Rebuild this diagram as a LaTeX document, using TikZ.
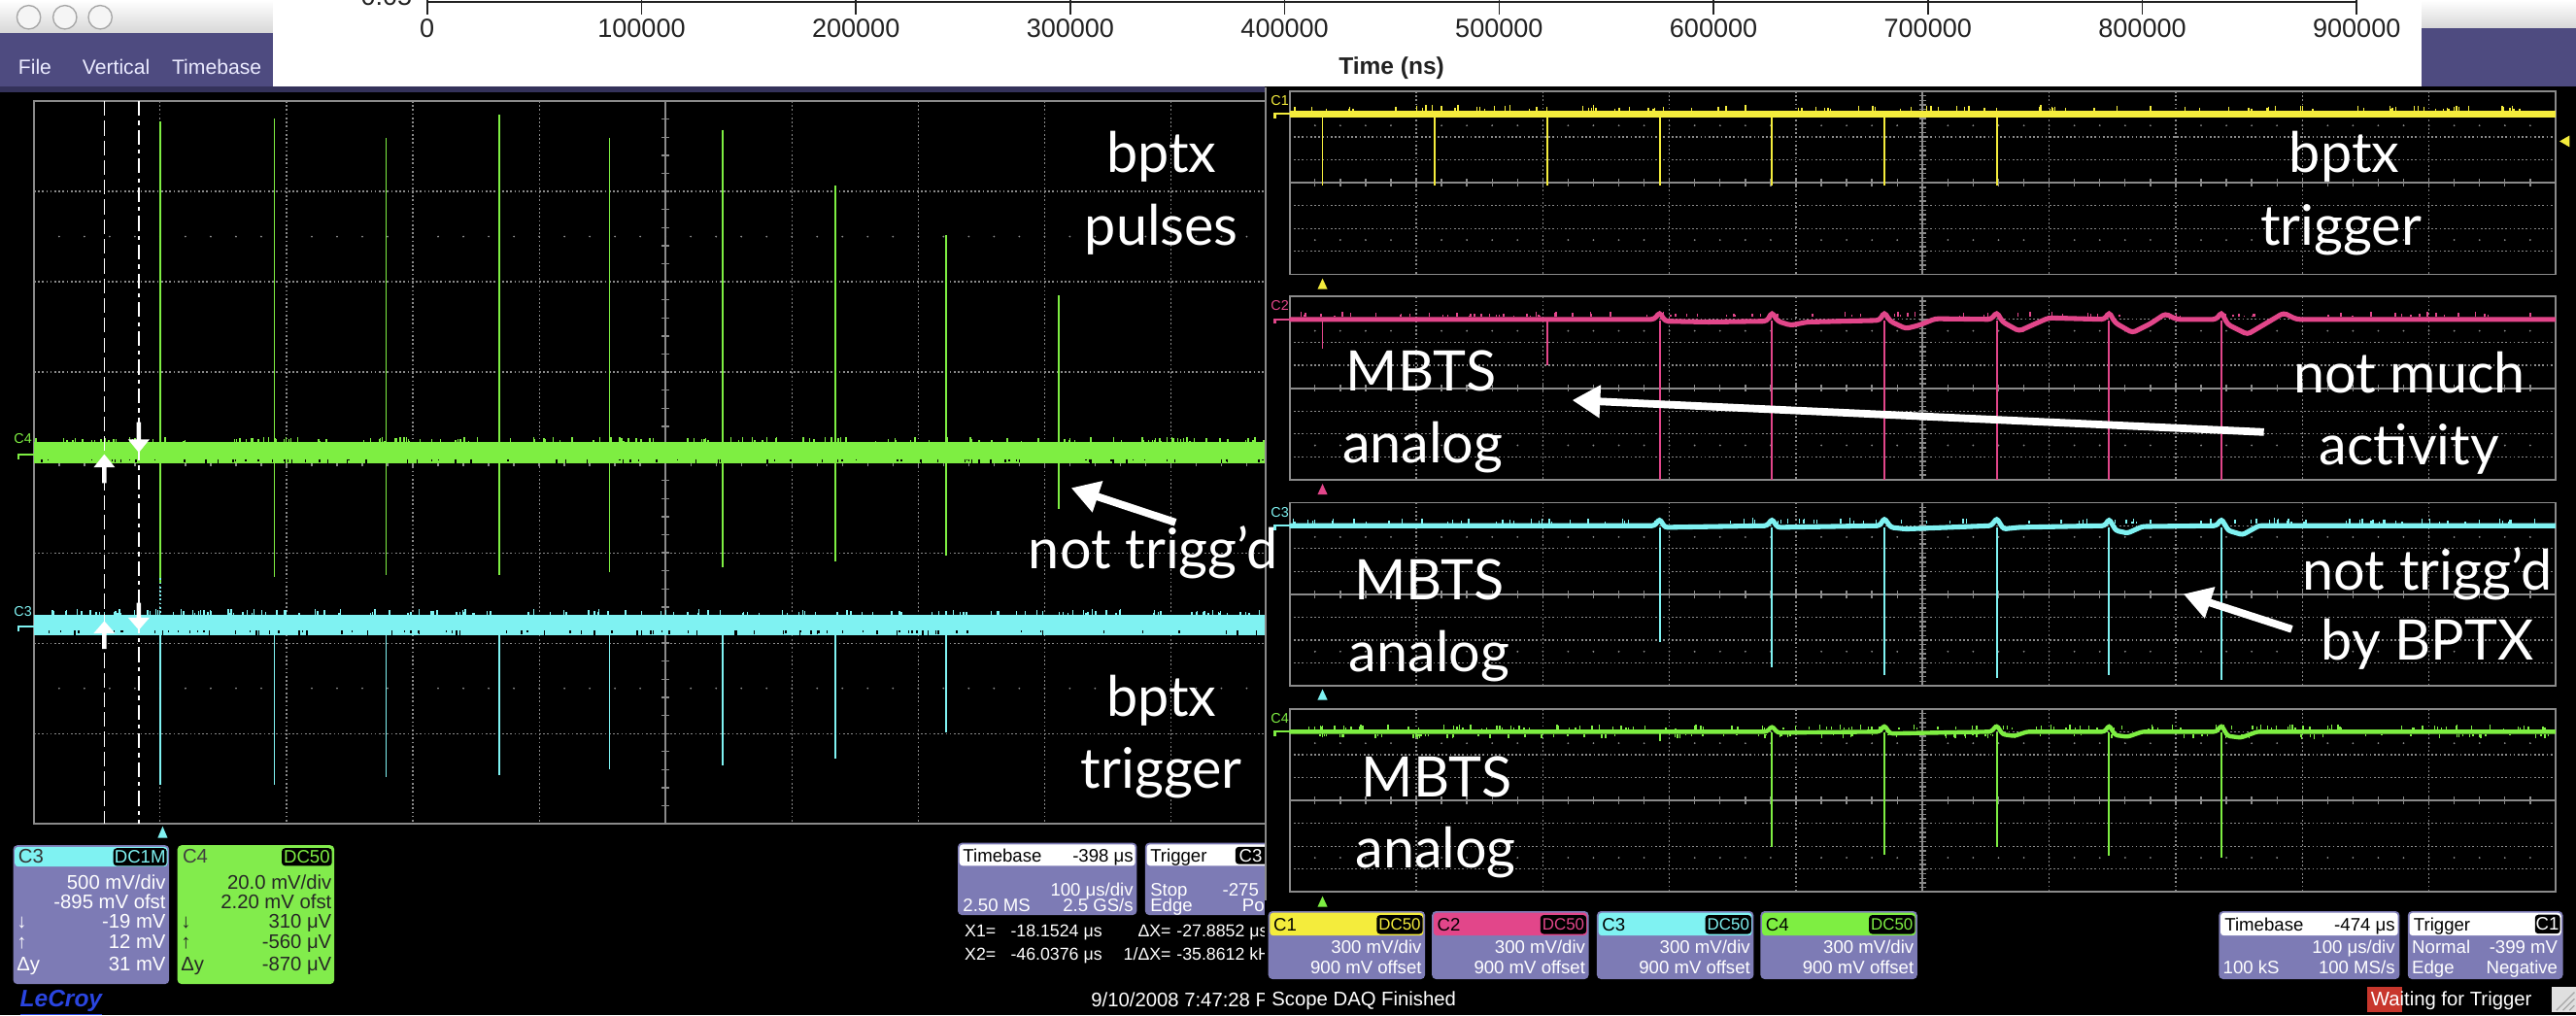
\documentclass[tikz,border=0pt]{standalone}
\usepackage{fontspec}
\setmainfont{Liberation Sans}
\newfontfamily\annf{Lato}
\newfontfamily\scopef{Liberation Sans}
\usetikzlibrary{arrows.meta}
\definecolor{menupurple}{HTML}{4E4B80}
\definecolor{menudark}{HTML}{34325A}
\definecolor{boxpurple}{HTML}{7D7BB5}
\definecolor{boxgreen}{HTML}{82EC4C}
\definecolor{tyellow}{HTML}{F4EC3C}
\definecolor{tpink}{HTML}{E2468A}
\definecolor{tcyan}{HTML}{7FF2F2}
\definecolor{tgreen}{HTML}{7EEE42}
\definecolor{gridgray}{HTML}{8A8A8A}
\definecolor{titlegray}{HTML}{D8D8D8}
\definecolor{lecroyblue}{HTML}{2A45E0}
\definecolor{waitred}{HTML}{C8372D}
\definecolor{axistext}{HTML}{222222}

\newcommand\scopegrid[4]{%
  \pgfmathsetmacro\gdx{(#3-#1)/10}%
  \pgfmathsetmacro\gdy{(#4-#2)/8}%
  \foreach \i in {1,...,9}{\draw[gridline] ({#1+\i*\gdx},#2) -- ({#1+\i*\gdx},#4);}
  \foreach \j in {1,...,7}{\draw[gridline] (#1,{#2+\j*\gdy}) -- (#3,{#2+\j*\gdy});}
  \foreach \k in {1,...,49}{%
    \fill[gridgray] ({#1+\k*\gdx/5},{#2+1.5*\gdy}) circle (0.6);
    \fill[gridgray] ({#1+\k*\gdx/5},{#4-1.5*\gdy}) circle (0.6);
    \draw[gridgray,line width=0.8pt] ({#1+\k*\gdx/5},{#2+4*\gdy-2.2}) -- ({#1+\k*\gdx/5},{#2+4*\gdy+2.2});}
  \foreach \k in {1,...,39}{\draw[gridgray,line width=0.8pt] ({#1+5*\gdx-2.2},{#2+\k*\gdy/5}) -- ({#1+5*\gdx+2.2},{#2+\k*\gdy/5});}
  \draw[frameline] ({#1+5*\gdx},#2) -- ({#1+5*\gdx},#4);
  \draw[frameline] (#1,{#2+4*\gdy}) -- (#3,{#2+4*\gdy});
  \draw[frameline] (#1,#2) rectangle (#3,#4);
}
\newcommand\noiseup[5]{%
  \foreach \i in {1,...,#5}{\pgfmathsetmacro\nx{#2+rnd*(#3-#2)}\pgfmathsetmacro\nh{0.8+rnd*2.4}%
    \draw[#1,line width=0.8pt] (\nx,#4) -- (\nx,{#4-\nh});}}
\newcommand\noisedown[5]{%
  \foreach \i in {1,...,#5}{\pgfmathsetmacro\nx{#2+rnd*(#3-#2)}\pgfmathsetmacro\nh{0.8+rnd*2.2}%
    \draw[#1,line width=0.8pt] (\nx,#4) -- (\nx,{#4+\nh});}}

\begin{document}
\begin{tikzpicture}[x=1pt,y=-1pt,
  gridline/.style={gridgray, line width=0.7pt, dash pattern=on 1pt off 1.5pt},
  frameline/.style={gridgray, line width=1.1pt},
  ann/.style={white, font=\annf\fontsize{34}{40}\selectfont, inner sep=0pt, anchor=base},
  st/.style={font=\scopef\fontsize{11}{13}\selectfont, inner sep=0pt},
  stl/.style={font=\scopef\fontsize{12}{14}\selectfont, inner sep=0pt},
  sro/.style={font=\scopef\fontsize{10.5}{12}\selectfont, inner sep=0pt},
  sbig/.style={font=\scopef\fontsize{12}{14}\selectfont, inner sep=0pt},
  chlab/.style={font=\scopef\fontsize{8.5}{10}\selectfont, inner sep=0pt},
  bigarrow/.style={white, line width=4.6pt, -{Triangle[length=17pt,width=19pt]}},
  pulse/.style={line width=1.1pt},
  cursorarrow/.style={white},
]
\useasboundingbox (0,0) rectangle (1568,618);
\fill[black] (0,0) rectangle (1568,618);
\pgfmathsetseed{4242}

% ---------------- window chrome ----------------
\fill[menupurple] (0,17) rectangle (1568,52.5);
\fill[menudark] (0,52.5) rectangle (770,56);
\shade[top color=white, bottom color=titlegray] (0,0) rectangle (166,19.7);
\shade[top color=white, bottom color=titlegray] (1474,0) rectangle (1568,17);
\foreach \cx in {17.5,39.5,61}{\draw[gray!70, line width=0.8pt, fill=white!92!gray] (\cx,10.5) circle (7.2);}
\node[font=\scopef\fontsize{12.5}{14}\selectfont, text=white!92!blue, anchor=base west, inner sep=0pt] (mfile) at (11,45.5) {File};
\node[font=\scopef\fontsize{12.5}{14}\selectfont, text=white!92!blue, anchor=base west, inner sep=0pt] (mvert) at (50,45.5) {Vertical};
\node[font=\scopef\fontsize{12.5}{14}\selectfont, text=white!92!blue, anchor=base west, inner sep=0pt] (mtime) at (104.5,45.5) {Timebase};

% ---------------- white plot overlay ----------------
\fill[white] (166,0) rectangle (1474,52.5);
\begin{scope}
\clip (166,0) rectangle (1474,52.5);
\draw[axistext, line width=1pt] (260,1) -- (1434,1);
\foreach \k in {0,...,9}{\draw[axistext, line width=1pt] ({260+130.5*\k},0) -- ({260+130.5*\k},9);}
\foreach \k/\lab in {0/0,1/100000,2/200000,3/300000,4/400000,5/500000,6/600000,7/700000,8/800000,9/900000}{
  \node[font=\scopef\fontsize{16}{18}\selectfont, text=axistext, anchor=base, inner sep=0pt] (xl\k) at ({260+130.5*\k},23) {\lab};}
\node[font=\scopef\fontsize{16}{18}\selectfont, text=axistext, anchor=base east, inner sep=0pt] (ylab) at (251,3) {-0.05};
\node[font=\scopef\bfseries\fontsize{14.5}{16}\selectfont, text=axistext, anchor=base, inner sep=0pt] (tlab) at (847,45) {Time (ns)};
\end{scope}

% ---------------- left scope ----------------
\scopegrid{20.6}{61.5}{789.6}{501.5}
\foreach \px/\tp/\bt in {97.6/74/355,167/72/351,235/84/350,304/70/350,371/84/348,440/79/345,508.5/113/342,576/143/338,644.5/180/310}{
  \draw[tgreen, pulse] (\px,\tp) -- (\px,\bt);}
\foreach \px/\bt in {97.6/478,167/478,235/473,304/472,371/468,440/466,508.5/462,576/446}{
  \draw[tcyan, pulse] (\px,386) -- (\px,\bt);}
\draw[tcyan, line width=0.8pt, dash pattern=on 1pt off 1.5pt] (97.6,352) -- (97.6,374);
\fill[tgreen] (20.6,269) rectangle (770,282);
\noiseup{tgreen}{21}{770}{269}{170}
\noisedown{black}{21}{770}{279.5}{90}
\fill[tcyan] (20.6,374) rectangle (770,386.5);
\noiseup{tcyan}{21}{770}{374}{170}
\noisedown{black}{21}{770}{384}{90}
\node[chlab, text=tgreen] (lc4) at (14,267) {C4};
\draw[tgreen, line width=1.2pt] (11,279.5) -- (11,276.5) -- (20.6,276.5);
\node[chlab, text=tcyan] (lc3) at (14,372) {C3};
\draw[tcyan, line width=1.2pt] (11,384.5) -- (11,381.5) -- (20.6,381.5);
\draw[white, line width=1pt, dash pattern=on 9pt off 3pt] (63.5,61.5) -- (63.5,501.5);
\draw[white, line width=1pt, dash pattern=on 9pt off 3pt on 2.5pt off 3pt] (84.5,61.5) -- (84.5,501.5);
\fill[cursorarrow] (83.2,257) -- (85.8,257) -- (85.8,267.5) -- (91,267.5) -- (84.5,275.5) -- (78,267.5) -- (83.2,267.5) -- cycle;
\fill[cursorarrow] (62.2,294) -- (64.8,294) -- (64.8,284.5) -- (70,284.5) -- (63.5,276.5) -- (57,284.5) -- (62.2,284.5) -- cycle;
\fill[cursorarrow] (83.2,367) -- (85.8,367) -- (85.8,376) -- (91,376) -- (84.5,383.5) -- (78,376) -- (83.2,376) -- cycle;
\fill[cursorarrow] (62.2,395) -- (64.8,395) -- (64.8,385.5) -- (70,385.5) -- (63.5,378) -- (57,385.5) -- (62.2,385.5) -- cycle;
\fill[tcyan] (96,510) -- (102,510) -- (99,503) -- cycle;

% C3 box
\fill[boxpurple, rounded corners=2.5pt] (8,514.5) rectangle (103,599);
\fill[tcyan, rounded corners=2pt] (9,515.5) rectangle (102,527.5);
\fill[black, rounded corners=2pt] (69,516.3) rectangle (101.5,527);
\node[font=\scopef\fontsize{11}{13}\selectfont, inner sep=0pt, text=tcyan] (c3bad) at (85.25,521.7) {DC1M};
\node[stl, text=black!80, anchor=base west] (c3h) at (11,525.5) {C3};
\node[stl, text=white, anchor=base east] (c3a) at (101,541) {500 mV/div};
\node[stl, text=white, anchor=base east] (c3b) at (101,553) {-895 mV ofst};
\node[stl, text=white, anchor=base east] (c3c) at (101,565) {-19 mV};
\node[stl, text=white, anchor=base east] (c3d) at (101,577.5) {12 mV};
\node[stl, text=white, anchor=base east] (c3e) at (101,591) {31 mV};
\node[stl, text=white, anchor=base west] (c3f) at (10,565) {↓};
\node[stl, text=white, anchor=base west] (c3g) at (10,577.5) {↑};
\node[stl, text=white, anchor=base west] (c3i) at (10,591) {Δy};
% C4 box
\fill[boxgreen, rounded corners=2.5pt] (108,514.5) rectangle (203.5,599);
\fill[black, rounded corners=2pt] (171.5,516.3) rectangle (202,527);
\node[font=\scopef\fontsize{11}{13}\selectfont, inner sep=0pt, text=tgreen] (c4bad) at (186.75,521.7) {DC50};
\node[stl, text=black!75, anchor=base west] (c4h) at (111,525.5) {C4};
\node[stl, text=black!85, anchor=base east] (c4a) at (202,541) {20.0 mV/div};
\node[stl, text=black!85, anchor=base east] (c4b) at (202,553) {2.20 mV ofst};
\node[stl, text=black!85, anchor=base east] (c4c) at (202,565) {310 μV};
\node[stl, text=black!85, anchor=base east] (c4d) at (202,577.5) {-560 μV};
\node[stl, text=black!85, anchor=base east] (c4e) at (202,591) {-870 μV};
\node[stl, text=black!85, anchor=base west] (c4f) at (110,565) {↓};
\node[stl, text=black!85, anchor=base west] (c4g) at (110,577.5) {↑};
\node[stl, text=black!85, anchor=base west] (c4i) at (110,591) {Δy};
\node[font=\scopef\bfseries\itshape\fontsize{14.5}{16}\selectfont, text=lecroyblue, anchor=base west, inner sep=0pt] (lecroy) at (12,613) {\underline{LeCroy}};

% Timebase / Trigger boxes (left)
\fill[boxpurple, rounded corners=2.5pt] (583,513) rectangle (692,557);
\fill[white, rounded corners=2pt] (584,514) rectangle (691,527);
\node[st, text=black, anchor=base west] (ltb1) at (586,524.5) {Timebase};
\node[st, text=black, anchor=base east] (ltb2) at (690,524.5) {-398 μs};
\node[st, text=white, anchor=base east] (ltb3) at (690,545.5) {100 μs/div};
\node[st, text=white, anchor=base west] (ltb4) at (586,554.8) {2.50 MS};
\node[st, text=white, anchor=base east] (ltb5) at (690,554.8) {2.5 GS/s};
\fill[boxpurple, rounded corners=2.5pt] (697,513) rectangle (800,557);
\fill[white, rounded corners=2pt] (698,514) rectangle (799,527);
\fill[black, rounded corners=2pt] (752,515.5) rectangle (778,526);
\node[st, text=black, anchor=base west] (ltr1) at (700,524.5) {Trigger};
\node[st, text=white, anchor=base west] (ltr2) at (754,524.5) {C3};
\node[st, text=white, anchor=base west] (ltr3) at (700,545.5) {Stop};
\node[st, text=white, anchor=base west] (ltr4) at (744,545.5) {-275 mV};
\node[st, text=white, anchor=base west] (ltr5) at (700,554.8) {Edge};
\node[st, text=white, anchor=base west] (ltr6) at (756,554.8) {Positive};
\node[sro, text=white, anchor=base west] (x1a) at (587,570.5) {X1=};
\node[sro, text=white, anchor=base west] (x1b) at (615,570.5) {-18.1524 μs};
\node[sro, text=white, anchor=base east] (x1c) at (713,570.5) {ΔX=};
\node[sro, text=white, anchor=base west] (x1d) at (716,570.5) {-27.8852 μs};
\node[sro, text=white, anchor=base west] (x2a) at (587,584.6) {X2=};
\node[sro, text=white, anchor=base west] (x2b) at (615,584.6) {-46.0376 μs};
\node[sro, text=white, anchor=base east] (x2c) at (713,584.6) {1/ΔX=};
\node[sro, text=white, anchor=base west] (x2d) at (716,584.6) {-35.8612 kHz};
\node[sbig, text=white, anchor=base west] (date) at (664,613) {9/10/2008 7:47:28 PM};

% ---------------- right scope ----------------
\fill[black] (770,53) rectangle (1568,618);
\draw[gridgray, line width=1pt] (770.5,53) -- (770.5,548);
\scopegrid{785}{55.5}{1555.5}{167}
\scopegrid{785}{180.5}{1555.5}{292}
\scopegrid{785}{306}{1555.5}{417.5}
\scopegrid{785}{431.5}{1555.5}{543}

\foreach \k in {0,...,6}{\draw[tyellow, pulse] ({805+68.4*\k},70) -- ({805+68.4*\k},113);}
\fill[tyellow] (785,67.2) rectangle (1555.5,71.6);
\noiseup{tyellow}{786}{1555}{67.2}{110}
\foreach \px/\bt in {805/212,941.8/222.5,1010.2/292,1078.6/292,1147/292,1215.4/292,1283.8/292,1352.2/292}{
  \draw[tpink, pulse] (\px,195) -- (\px,\bt);}
\draw[tpink, line width=3pt, rounded corners=2pt] (785,194.4) -- (1007,194.4) -- (1010.2,190) -- (1013.5,195.5) -- (1040,196) -- (1075.5,195.5) -- (1078.6,190) -- (1082,195.5) -- (1090,198) -- (1100,196) -- (1144,195) -- (1147,190) -- (1150.5,195.5) -- (1160,200) -- (1168,198) -- (1178,194) -- (1212,194.4) -- (1215.4,190) -- (1219,196) -- (1229,201.5) -- (1239,197) -- (1247,193.5) -- (1281,194.4) -- (1283.8,190) -- (1287.5,196.5) -- (1298,202.5) -- (1309,197) -- (1318,191) -- (1325,194.4) -- (1349,194.4) -- (1352.2,190) -- (1356,197.5) -- (1368,203.5) -- (1379,197) -- (1390,190.5) -- (1398,194.4) -- (1555.5,194.4);
\noiseup{tpink}{786}{1555}{193}{110}
\foreach \px/\bt in {1010.2/391,1078.6/406,1147/411,1215.4/412.5,1283.8/411,1352.2/414}{
  \draw[tcyan, pulse] (\px,321) -- (\px,\bt);}
\draw[tcyan, line width=3pt, rounded corners=1.5pt] (785,320) -- (1007,320) -- (1010.2,316) -- (1013.5,321) -- (1075.5,320) -- (1078.6,316) -- (1082,321) -- (1144,320) -- (1147,315.5) -- (1151,321) -- (1160,322) -- (1212,320) -- (1215.4,315.5) -- (1219.5,322) -- (1229,321) -- (1281,320) -- (1283.8,316) -- (1288,323) -- (1295,324.5) -- (1304,320.5) -- (1349,320) -- (1352.2,316) -- (1356.5,323) -- (1365,325.5) -- (1375,320) -- (1555.5,320);
\noiseup{tcyan}{786}{1555}{318.5}{110}
\foreach \px/\bt in {805/449,1010.2/451,1078.6/515.5,1147/520,1215.4/515.5,1283.8/521,1352.2/522}{
  \draw[tgreen, pulse] (\px,446) -- (\px,\bt);}
\draw[tgreen, line width=2.6pt, rounded corners=1.5pt] (785,445.4) -- (1075.5,445.4) -- (1078.6,442) -- (1082,446) -- (1144,445.4) -- (1147,441.5) -- (1150.5,446.5) -- (1212,445.4) -- (1215.4,441.5) -- (1219,447) -- (1226,448) -- (1234,445.4) -- (1281,445.4) -- (1283.8,441.5) -- (1287.5,447.5) -- (1295,448.5) -- (1304,445.4) -- (1349,445.4) -- (1352.2,441.5) -- (1356,448) -- (1364,449) -- (1374,445.4) -- (1555.5,445.4);
\noiseup{tgreen}{786}{1555}{444.1}{150}
\noisedown{tgreen}{786}{1555}{446.7}{110}

\node[chlab, text=tyellow] (rc1) at (779,61) {C1};
\draw[tyellow, line width=1.2pt] (776,72) -- (776,69.4) -- (785,69.4);
\node[chlab, text=tpink] (rc2) at (779,186) {C2};
\draw[tpink, line width=1.2pt] (776,197) -- (776,194.4) -- (785,194.4);
\node[chlab, text=tcyan] (rc3) at (779,312) {C3};
\draw[tcyan, line width=1.2pt] (776,322.6) -- (776,320) -- (785,320);
\node[chlab, text=tgreen] (rc4) at (779,437) {C4};
\draw[tgreen, line width=1.2pt] (776,448) -- (776,445.4) -- (785,445.4);
\fill[tyellow] (802,176) -- (808,176) -- (805,169.5) -- cycle;
\fill[tpink] (802,301) -- (808,301) -- (805,294.5) -- cycle;
\fill[tcyan] (802,426) -- (808,426) -- (805,419.5) -- cycle;
\fill[tgreen] (802,552) -- (808,552) -- (805,545.5) -- cycle;
\fill[tyellow] (1558,86) -- (1564,82.5) -- (1564,89.5) -- cycle;

\foreach \bx/\col/\lab/\n in {772/tyellow/C1/1,871.6/tpink/C2/2,972/tcyan/C3/3,1071.6/tgreen/C4/4}{
  \fill[boxpurple, rounded corners=2.5pt] (\bx,554.6) rectangle ({\bx+95.4},596);
  \fill[\col, rounded corners=2pt] ({\bx+1},555.6) rectangle ({\bx+94.4},569.5);
  \fill[black, rounded corners=2pt] ({\bx+66},557) rectangle ({\bx+94},568.5);
  \node[font=\scopef\fontsize{10}{12}\selectfont, inner sep=0pt, text=\col] (bd\n) at ({\bx+80},562.75) {DC50};
  \node[st, anchor=base west, text=black] (bl\n) at ({\bx+3},566.5) {\lab};
  \node[st, anchor=base east, text=white] (bv\n) at ({\bx+93.5},580.5) {300 mV/div};
  \node[st, anchor=base east, text=white] (bo\n) at ({\bx+93.5},593) {900 mV offset};
}
\fill[boxpurple, rounded corners=2.5pt] (1350.6,554.6) rectangle (1460.6,596);
\fill[white, rounded corners=2pt] (1351.6,555.6) rectangle (1459.6,569.5);
\node[st, text=black, anchor=base west] (rtb1) at (1354,566.5) {Timebase};
\node[st, text=black, anchor=base east] (rtb2) at (1458,566.5) {-474 μs};
\node[st, text=white, anchor=base east] (rtb3) at (1458,580.5) {100 μs/div};
\node[st, text=white, anchor=base west] (rtb4) at (1353,593) {100 kS};
\node[st, text=white, anchor=base east] (rtb5) at (1458,593) {100 MS/s};
\fill[boxpurple, rounded corners=2.5pt] (1465.6,554.6) rectangle (1560,596);
\fill[white, rounded corners=2pt] (1466.6,555.6) rectangle (1559,569.5);
\fill[black, rounded corners=2pt] (1543,556.8) rectangle (1558.3,568.3);
\node[st, text=black, anchor=base west] (rtr1) at (1469,566.5) {Trigger};
\node[st, text=white] (rtr2) at (1550.6,562.5) {C1};
\node[st, text=white, anchor=base west] (rtr3) at (1468,580.5) {Normal};
\node[st, text=white, anchor=base east] (rtr4) at (1557,580.5) {-399 mV};
\node[st, text=white, anchor=base west] (rtr5) at (1468,593) {Edge};
\node[st, text=white, anchor=base east] (rtr6) at (1557,593) {Negative};
\node[sbig, text=white, anchor=base west] (daq) at (774,612.5) {Scope DAQ Finished};
\fill[waitred] (1441,601) rectangle (1462,616);
\node[sbig, text=white, anchor=base west] (wait) at (1443,612.5) {Waiting for Trigger};
\fill[gray!25] (1553,601) rectangle (1568,616);
\draw[gray!70, line width=0.7pt] (1556,615) -- (1567,604) (1560,615) -- (1567,608) (1564,615) -- (1567,612);

% ---------------- annotations ----------------
\node[ann] (t1a) at (707,105) {bptx};
\node[ann] (t1b) at (707,149) {pulses};
\node[ann] (t2a) at (702,346) {not trigg’d};
\node[ann] (t3a) at (707,436) {bptx};
\node[ann] (t3b) at (707,480) {trigger};
\node[ann] (t4a) at (1427,105) {bptx};
\node[ann] (t4b) at (1425,149) {trigger};
\node[ann] (t5a) at (865,238) {MBTS};
\node[ann] (t5b) at (866,282) {analog};
\node[ann] (t6a) at (1466.5,239) {not much};
\node[ann] (t6b) at (1466.5,283) {activity};
\node[ann] (t7a) at (870,365) {MBTS};
\node[ann] (t7b) at (870,409) {analog};
\node[ann] (t8a) at (1477.5,359) {not trigg’d};
\node[ann] (t8b) at (1477.5,402) {by BPTX};
\node[ann] (t9a) at (874.5,485) {MBTS};
\node[ann] (t9b) at (874,528) {analog};

\coordinate (a1s) at (715.5,318); \coordinate (a1e) at (652,297);
\coordinate (a2s) at (1378,263); \coordinate (a2e) at (957,243.6);
\coordinate (a3s) at (1395,383); \coordinate (a3e) at (1329,361.6);
\draw[bigarrow] (a1s) -- (a1e);
\draw[bigarrow] (a2s) -- (a2e);
\draw[bigarrow] (a3s) -- (a3e);
\end{tikzpicture}
\end{document}
